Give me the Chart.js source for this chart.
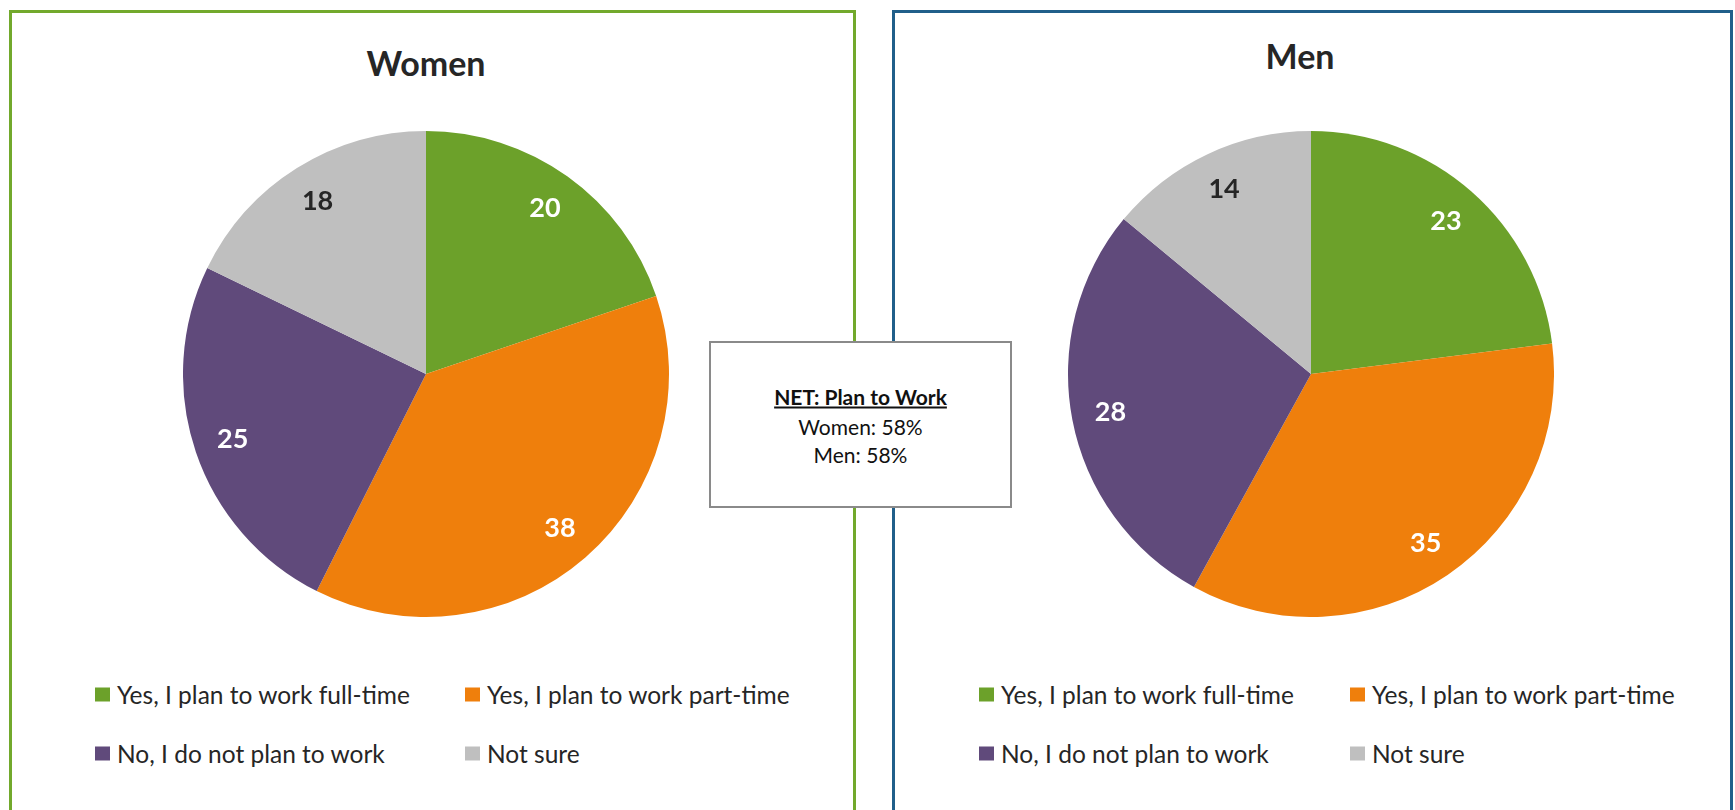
<!DOCTYPE html>
<html>
<head>
<meta charset="utf-8">
<script src="https://cdn.jsdelivr.net/npm/chart.js@4"></script>
<style>
  body { margin: 0; width: 1735px; height: 810px; overflow: hidden; background: #fff; font-family: Lato, "Open Sans", sans-serif; color: #262626; }
  .panel { position: absolute; top: 10px; height: 900px; box-sizing: border-box; border: 3px solid; }
  #womenPanel { left: 9px; width: 847px; border-color: #72A92C; }
  #menPanel { left: 892px; width: 841px; border-color: #205F8A; }
  .title { position: absolute; font-weight: bold; font-size: 34px; transform: translate(-50%, -50%); white-space: nowrap; }
  canvas { position: absolute; }
  .legend { position: absolute; font-size: 24.5px; }
  .item { position: absolute; white-space: nowrap; transform: translateY(-50%); display: flex; align-items: center; }
  .box { width: 15px; height: 14px; margin-right: 7px; }
  #netBox { position: absolute; left: 709px; top: 341px; width: 303px; height: 167px; box-sizing: border-box; border: 2px solid #8a8a8a; background: #fff; z-index: 5; font-size: 21px; text-align: center; color: #111; }
  #netBox div { position: absolute; left: 0; right: 0; transform: translateY(-50%); }
</style>
</head>
<body>
<div class="panel" id="womenPanel"></div>
<div class="panel" id="menPanel"></div>

<div class="title" style="left:426px; top:62px;">Women</div>
<div class="title" style="left:1300px; top:55px;">Men</div>

<canvas id="womenPie" width="486" height="486" style="left:183px; top:131px;"></canvas>
<canvas id="menPie" width="486" height="486" style="left:1068px; top:131px;"></canvas>

<div class="legend" id="womenLegend"></div>
<div class="legend" id="menLegend"></div>

<div id="netBox">
  <div style="top:53px; font-weight:bold; text-decoration:underline;">NET: Plan to Work</div>
  <div style="top:83px;">Women: 58%</div>
  <div style="top:111px;">Men: 58%</div>
</div>

<script>
const categories = ['Yes, I plan to work full-time', 'Yes, I plan to work part-time', 'No, I do not plan to work', 'Not sure'];
const womenValues = [20, 38, 25, 18];
const menValues = [23, 35, 28, 14];
const sliceColors = ['#6CA12A', '#EF7F0C', '#604A7B', '#BFBFBF'];
const labelColors = ['#ffffff', '#ffffff', '#ffffff', '#262626'];

// draws the numbers inside each slice
const sliceLabels = {
  id: 'sliceLabels',
  afterDatasetsDraw(chart) {
    const ctx = chart.ctx;
    const meta = chart.getDatasetMeta(0);
    ctx.save();
    ctx.font = 'bold 27px Lato, sans-serif';
    ctx.textAlign = 'center';
    ctx.textBaseline = 'middle';
    meta.data.forEach((arc, i) => {
      const p = arc.getProps(['x', 'y', 'startAngle', 'endAngle', 'outerRadius'], true);
      const mid = (p.startAngle + p.endAngle) / 2;
      const r = p.outerRadius * 0.84;
      ctx.fillStyle = labelColors[i];
      ctx.fillText(chart.data.datasets[0].data[i], p.x + Math.cos(mid) * r, p.y + Math.sin(mid) * r);
    });
    ctx.restore();
  }
};

function makePie(id, values) {
  return new Chart(document.getElementById(id), {
    type: 'pie',
    data: {
      labels: categories,
      datasets: [{
        data: values,
        backgroundColor: sliceColors,
        borderWidth: 0
      }]
    },
    options: {
      responsive: false,
      animation: false,
      plugins: {
        legend: { display: false },
        tooltip: { enabled: false }
      }
    },
    plugins: [sliceLabels]
  });
}

makePie('womenPie', womenValues);
makePie('menPie', menValues);

function makeLegend(id, cols, rows) {
  const el = document.getElementById(id);
  categories.forEach((c, i) => {
    const item = document.createElement('div');
    item.className = 'item';
    item.style.left = cols[i % 2] + 'px';
    item.style.top = rows[Math.floor(i / 2)] + 'px';
    item.innerHTML = '<span class="box" style="background:' + sliceColors[i] + '"></span>' + c;
    el.appendChild(item);
  });
}

makeLegend('womenLegend', [95, 465], [694, 753]);
makeLegend('menLegend', [979, 1350], [694, 753]);
</script>
</body>
</html>
